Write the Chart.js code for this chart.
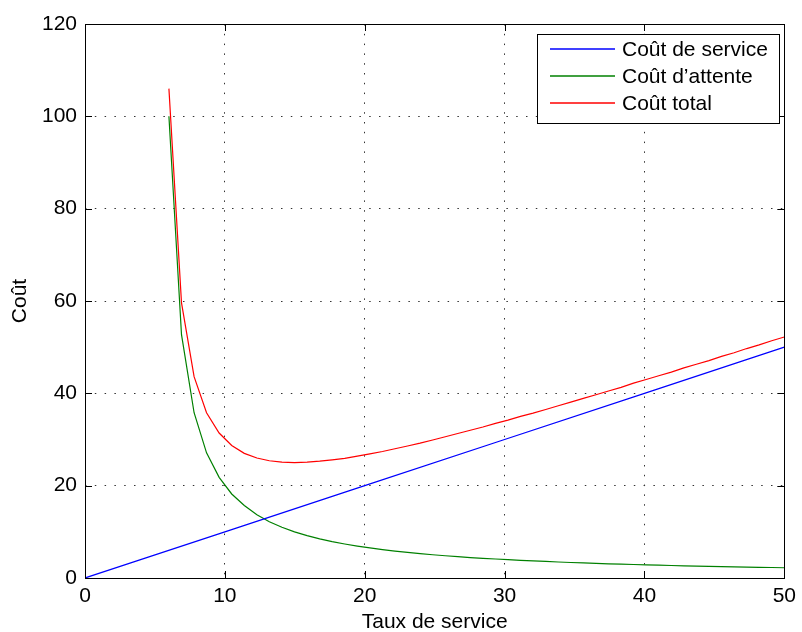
<!DOCTYPE html>
<html>
<head>
<meta charset="utf-8">
<script src="https://cdn.jsdelivr.net/npm/chart.js@4.4.1/dist/chart.umd.min.js"></script>
<style>
  html, body { margin: 0; padding: 0; background: #fff; }
</style>
</head>
<body>
<canvas id="costChart" width="802" height="632"></canvas>
<script>
// service cost line
const serviceRate = [0, 10, 20, 30, 40, 50];
const serviceCost = [0, 10, 20, 30, 40, 50];

// sampled service rates for waiting / total cost
const rates = [
  6.00, 6.90, 7.80, 8.69, 9.59, 10.49, 11.39, 12.29, 13.18, 14.08,
  14.98, 15.88, 16.78, 17.67, 18.57, 19.47, 20.37, 21.27, 22.16, 23.06,
  23.96, 24.86, 25.76, 26.65, 27.55, 28.45, 29.35, 30.24, 31.14, 32.04,
  32.94, 33.84, 34.73, 35.63, 36.53, 37.43, 38.33, 39.22, 40.12, 41.02,
  41.92, 42.82, 43.71, 44.61, 45.51, 46.41, 47.31, 48.20, 49.10, 50.00
];
const waitingCost = [
  100.0, 52.7, 35.8, 27.1, 21.8, 18.2, 15.7, 13.7, 12.2, 11.0,
  10.0, 9.19, 8.49, 7.89, 7.37, 6.91, 6.51, 6.15, 5.83, 5.54,
  5.27, 5.04, 4.82, 4.62, 4.43, 4.26, 4.11, 3.96, 3.83, 3.70,
  3.58, 3.47, 3.36, 3.26, 3.17, 3.08, 3.00, 2.92, 2.85, 2.78,
  2.71, 2.64, 2.58, 2.52, 2.47, 2.41, 2.36, 2.31, 2.27, 2.22
];
const totalCost = [
  106.0, 59.6, 43.6, 35.8, 31.4, 28.7, 27.0, 26.0, 25.4, 25.1,
  25.0, 25.1, 25.3, 25.6, 25.9, 26.4, 26.9, 27.4, 28.0, 28.6,
  29.2, 29.9, 30.6, 31.3, 32.0, 32.7, 33.5, 34.2, 35.0, 35.7,
  36.5, 37.3, 38.1, 38.9, 39.7, 40.5, 41.3, 42.2, 43.0, 43.8,
  44.6, 45.5, 46.3, 47.1, 48.0, 48.8, 49.7, 50.5, 51.4, 52.2
];

const xTicks = [0, 10, 20, 30, 40, 50];
const yTicks = [0, 20, 40, 60, 80, 100, 120];
const labels = ["Coût de service", "Coût d\u2019attente", "Coût total"];

const pts = (xs, ys) => xs.map((x, i) => ({ x: x, y: ys[i] }));

Chart.defaults.font.family = "'Liberation Sans', Arial, Helvetica, sans-serif";
Chart.defaults.font.size = 21;
Chart.defaults.color = "#000";

// frame, inward ticks and the boxed legend, matlab style
const matlabFrame = {
  id: "matlabFrame",
  afterDraw(chart) {
    const ctx = chart.ctx;
    const a = chart.chartArea;
    const xs = chart.scales.x, ys = chart.scales.y;
    ctx.save();
    ctx.strokeStyle = "#000";
    ctx.lineWidth = 1;
    ctx.setLineDash([]);
    ctx.beginPath();
    xTicks.forEach((v) => {
      const px = Math.round(xs.getPixelForValue(v)) + 0.5;
      ctx.moveTo(px, a.bottom); ctx.lineTo(px, a.bottom - 7);
      ctx.moveTo(px, a.top); ctx.lineTo(px, a.top + 7);
    });
    yTicks.forEach((v) => {
      const py = Math.round(ys.getPixelForValue(v)) + 0.5;
      ctx.moveTo(a.left, py); ctx.lineTo(a.left + 7, py);
      ctx.moveTo(a.right, py); ctx.lineTo(a.right - 7, py);
    });
    ctx.stroke();
    ctx.strokeRect(Math.round(a.left) + 0.5, Math.round(a.top) + 0.5,
      Math.round(a.right - a.left), Math.round(a.bottom - a.top));

    // legend
    const bx = 537.5, by = 34.5, bw = 242, bh = 89;
    ctx.fillStyle = "#fff";
    ctx.fillRect(bx, by, bw, bh);
    ctx.strokeRect(bx, by, bw, bh);
    ctx.font = "21px 'Liberation Sans', Arial, sans-serif";
    ctx.textBaseline = "middle";
    ctx.lineWidth = 1.3;
    chart.data.datasets.forEach((ds, i) => {
      const y = 49 + i * 27;
      ctx.strokeStyle = ds.borderColor;
      ctx.beginPath();
      ctx.moveTo(550, y);
      ctx.lineTo(615, y);
      ctx.stroke();
      ctx.fillStyle = "#000";
      ctx.fillText(ds.label, 622, y + 1);
    });
    ctx.restore();
  }
};

new Chart(document.getElementById("costChart"), {
  type: "line",
  data: {
    datasets: [
      { label: labels[0], data: pts(serviceRate, serviceCost), borderColor: "#0000ff" },
      { label: labels[1], data: pts(rates, waitingCost), borderColor: "#008000" },
      { label: labels[2], data: pts(rates, totalCost), borderColor: "#ff0000" },
    ],
  },
  options: {
    responsive: false,
    animation: false,
    layout: { padding: { top: 24, right: 14, left: 0, bottom: 0 } },
    elements: {
      point: { radius: 0 },
      line: { borderWidth: 1.2, tension: 0 },
    },
    plugins: {
      legend: { display: false },
      tooltip: { enabled: false },
    },
    scales: {
      x: {
        type: "linear",
        min: 0,
        max: 50,
        afterBuildTicks: (s) => { s.ticks = xTicks.map((v) => ({ value: v })); },
        afterFit: (s) => { s.height = 54; },
        ticks: { padding: 6, maxRotation: 0 },
        grid: { color: "#333", lineWidth: 1, drawTicks: false },
        border: { display: false, dash: [1.5, 8.3] },
        title: { display: true, text: "Taux de service", padding: { top: 0, bottom: -3 } },
      },
      y: {
        type: "linear",
        min: 0,
        max: 120,
        afterBuildTicks: (s) => { s.ticks = yTicks.map((v) => ({ value: v })); },
        afterFit: (s) => { s.width = 85; },
        ticks: { padding: 8 },
        grid: { color: "#333", lineWidth: 1, drawTicks: false },
        border: { display: false, dash: [1.5, 8.3] },
        title: { display: true, text: "Coût", padding: { top: 8, bottom: 0 } },
      },
    },
  },
  plugins: [matlabFrame],
});
</script>
</body>
</html>
